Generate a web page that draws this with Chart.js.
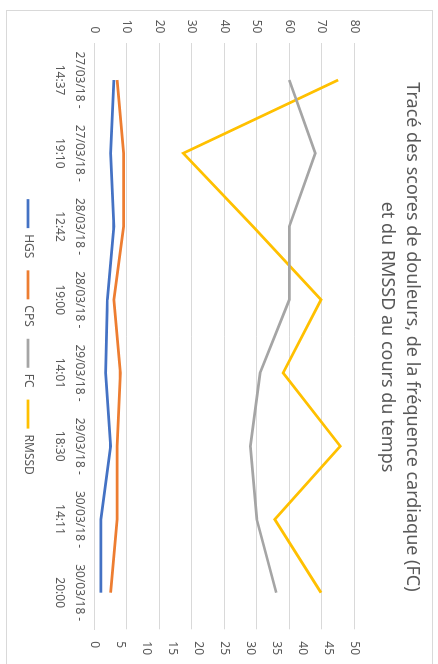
<!DOCTYPE html>
<html>
<head>
<meta charset="utf-8">
<script src="https://cdn.jsdelivr.net/npm/chart.js@4"></script>
<style>
  html, body { margin: 0; padding: 0; background: #fff; overflow: hidden; }
  #wrap {
    position: absolute; left: 0; top: 0;
    width: 664px; height: 438px;
    transform-origin: 0 0;
    transform: translate(438px, 0) rotate(90deg);
  }
</style>
</head>
<body>
<div id="wrap"><canvas id="myChart" width="664" height="438"></canvas></div>
<script>
const labels = [
  ["27/03/18 -", "14:37"],
  ["27/03/18 -", "19:10"],
  ["28/03/18 -", "12:42"],
  ["28/03/18 -", "19:00"],
  ["29/03/18 -", "14:01"],
  ["29/03/18 -", "18:30"],
  ["30/03/18 -", "14:11"],
  ["30/03/18 -", "20:00"]
];
const hgs = [6, 5, 6, 4, 3.5, 5, 2, 2];
const cps = [7, 9, 9, 6, 8, 7, 7, 5];
const fc = [60, 68, 60, 60, 51, 48, 50, 56];
const rmssd = [46.9, 17.1, 30.5, 43.6, 36.3, 47.3, 34.7, 43.6];

const textColor = "#595959";
const gridColor = "#d9d9d9";
const fontFamily = "'Noto Sans', sans-serif";

const border = {
  id: "border",
  beforeDraw(chart) {
    const c = chart.ctx;
    c.save();
    c.fillStyle = "#fff";
    c.fillRect(0, 0, chart.width, chart.height);
    c.strokeStyle = gridColor;
    c.lineWidth = 1;
    c.strokeRect(10.5, 5.5, 700, 426);
    c.restore();
  }
};

function line(label, data, color, axis) {
  return {
    label: label,
    data: data,
    borderColor: color,
    backgroundColor: color,
    borderWidth: 2.75,
    pointRadius: 0,
    tension: 0,
    yAxisID: axis
  };
}

new Chart(document.getElementById("myChart"), {
  type: "line",
  data: {
    labels: labels,
    datasets: [
      line("HGS", hgs, "#4472c4", "y"),
      line("CPS", cps, "#ed7d31", "y"),
      line("FC", fc, "#a5a5a5", "y"),
      line("RMSSD", rmssd, "#ffc000", "y1")
    ]
  },
  options: {
    responsive: false,
    animation: false,
    layout: { padding: { left: 10, right: 0, top: 5, bottom: 12 } },
    plugins: {
      title: {
        display: true,
        text: ["Tracé des scores de douleurs, de la fréquence cardiaque (FC)", "et du RMSSD au cours du temps"],
        color: textColor,
        font: { family: fontFamily, size: 18, weight: "normal", lineHeight: 1.37 },
        padding: { top: 8.7, bottom: 20.7 }
      },
      legend: {
        position: "bottom",
        labels: {
          color: textColor,
          font: { family: fontFamily, size: 12 },
          usePointStyle: true,
          pointStyle: "line",
          pointStyleWidth: 29,
          padding: 12
        }
      },
      tooltip: { enabled: false }
    },
    scales: {
      x: {
        offset: true,
        grid: { display: false, drawTicks: false },
        border: { display: true, color: gridColor },
        ticks: {
          color: textColor,
          font: { family: fontFamily, size: 12, lineHeight: 1.667 },
          padding: 5,
          maxRotation: 0,
          autoSkip: false
        },
        afterFit(scale) { scale.height = 48.3; }
      },
      y: {
        position: "left",
        min: 0,
        max: 80,
        grid: { color: gridColor, drawTicks: false },
        border: { display: false },
        ticks: {
          stepSize: 10,
          color: textColor,
          font: { family: fontFamily, size: 12 },
          padding: 10
        },
        afterFit(scale) { scale.width = 33.4; }
      },
      y1: {
        position: "right",
        min: 0,
        max: 50,
        grid: { drawOnChartArea: false, drawTicks: false },
        border: { display: false },
        ticks: {
          stepSize: 5,
          color: textColor,
          font: { family: fontFamily, size: 12 },
          padding: 12
        },
        afterFit(scale) { scale.width = 34.7; }
      }
    }
  },
  plugins: [border]
});
</script>
</body>
</html>
